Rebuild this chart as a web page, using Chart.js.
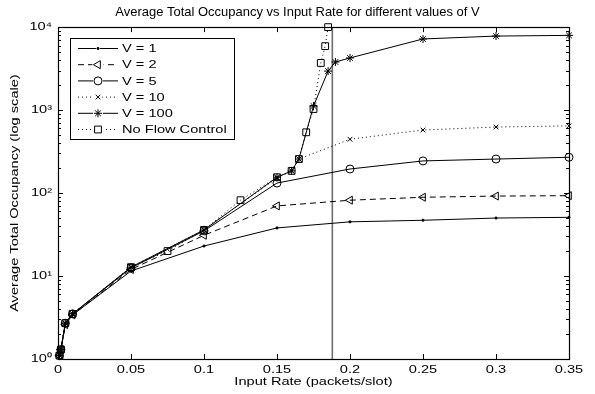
<!DOCTYPE html>
<html>
<head>
<meta charset="utf-8">
<script src="https://cdn.jsdelivr.net/npm/chart.js@4/dist/chart.umd.min.js"></script>
<style>
  html, body { margin: 0; padding: 0; background: #fff; }
  #wrap { width: 595px; height: 394px; }
</style>
</head>
<body>
<div id="wrap"><canvas id="chart" width="595" height="394"></canvas></div>
<script>
(function () {
  "use strict";

  // values (x = input rate, y = occupancy)
  const v1X = [0.001, 0.002, 0.005, 0.01, 0.05, 0.1, 0.15, 0.2, 0.25, 0.3, 0.35];
  const v1Y = [1.1, 1.3, 2.6, 3.4, 11.5, 23, 38, 45, 47, 50, 51];

  const v2X = [0.001, 0.002, 0.005, 0.01, 0.05, 0.1, 0.15, 0.2, 0.25, 0.3, 0.35];
  const v2Y = [1.1, 1.3, 2.6, 3.4, 12, 31, 70, 82, 89, 92, 93];

  const v5X = [0.001, 0.002, 0.005, 0.01, 0.05, 0.1, 0.15, 0.2, 0.25, 0.3, 0.35];
  const v5Y = [1.1, 1.3, 2.7, 3.5, 12.5, 35, 132, 195, 244, 257, 270];

  const v10X = [0.001, 0.002, 0.005, 0.01, 0.05, 0.1, 0.15, 0.16, 0.165, 0.2, 0.25, 0.3, 0.35];
  const v10Y = [1.1, 1.3, 2.7, 3.5, 12.8, 36, 152, 185, 257, 445, 575, 625, 645];

  const v100X = [0.001, 0.002, 0.005, 0.01, 0.05, 0.1, 0.15, 0.16, 0.165, 0.175, 0.185, 0.19, 0.2, 0.25, 0.3, 0.35];
  const v100Y = [1.1, 1.3, 2.7, 3.5, 12.8, 36, 155, 185, 257, 1120, 2950, 3800, 4250, 7200, 7800, 7950];

  const nfcX = [0.001, 0.002, 0.005, 0.01, 0.05, 0.075, 0.1, 0.125, 0.15, 0.16, 0.165, 0.17, 0.175, 0.18, 0.183, 0.185];
  const nfcY = [1.1, 1.3, 2.7, 3.5, 12.8, 20, 36, 82, 155, 185, 257, 540, 1030, 3700, 5900, 10000];

  // capacity marker (vertical line)
  const limitX = [0.1879, 0.1879];
  const limitY = [1, 10000];

  const xTicks = [0, 0.05, 0.1, 0.15, 0.2, 0.25, 0.3, 0.35];
  const yMajor = [1, 10, 100, 1000, 10000];
  const yLabels = ["10\u2070", "10\u00b9", "10\u00b2", "10\u00b3", "10\u2074"];

  const FONT = "'Liberation Sans', Arial, Helvetica, sans-serif";
  const TITLE_SIZE = 12.6;
  const TEXT_SIZE = 11.5;

  const canvas = document.getElementById("chart");
  const ctx2d = canvas.getContext("2d");

  // the source print has wide (horizontally stretched) lettering
  const rawFill = ctx2d.fillText.bind(ctx2d);
  ctx2d.fillText = function (text, x, y) {
    const sx = this.font.indexOf(TITLE_SIZE + "px") >= 0 ? 1.03 : 1.27;
    this.save();
    this.translate(x, y);
    this.scale(sx, 1);
    rawFill(text, 0, 0);
    this.restore();
  };

  function pts(xs, ys) {
    return xs.map((x, i) => ({ x, y: ys[i] }));
  }

  function series(label, xs, ys, extra) {
    return Object.assign({
      label,
      data: pts(xs, ys),
      borderColor: "#000",
      borderWidth: 1,
      pointBorderColor: "#000",
      pointBackgroundColor: "rgba(0,0,0,0)",
      pointBorderWidth: 1,
      pointHoverRadius: 0,
      tension: 0,
      fill: false,
      clip: false
    }, extra);
  }

  const datasets = [
    series("V = 1", v1X, v1Y, { pointStyle: "circle", pointRadius: 1.1, pointBackgroundColor: "#000" }),
    series("V = 2", v2X, v2Y, { pointStyle: "triangle", pointRotation: -90, pointRadius: 4.6, borderDash: [6, 4] }),
    series("V = 5", v5X, v5Y, { pointStyle: "circle", pointRadius: 4 }),
    series("V = 10", v10X, v10Y, { pointStyle: "crossRot", pointRadius: 3.3, borderDash: [1, 3] }),
    series("V = 100", v100X, v100Y, { pointStyle: "star", pointRadius: 4 }),
    series("No Flow Control", nfcX, nfcY, { pointStyle: "rect", pointRadius: 4.8, borderDash: [1, 3] }),
    {
      label: "",
      data: pts(limitX, limitY),
      borderColor: "#6e6e6e",
      borderWidth: 1.6,
      pointRadius: 0,
      clip: false
    }
  ];

  // MATLAB-like box with inward ticks
  const framePlugin = {
    id: "frame",
    afterDatasetsDraw(chart) {
      const { ctx, chartArea: a, scales } = chart;
      const xs = scales.x, ys = scales.y;
      ctx.save();
      ctx.strokeStyle = "#000";
      ctx.lineWidth = 1;
      ctx.setLineDash([]);
      ctx.beginPath();
      xTicks.forEach((v) => {
        const px = Math.round(xs.getPixelForValue(v)) + 0.5;
        ctx.moveTo(px, a.bottom); ctx.lineTo(px, a.bottom - 5);
        ctx.moveTo(px, a.top); ctx.lineTo(px, a.top + 5);
      });
      for (let e = 0; e < 4; e++) {
        for (let m = 1; m <= 10; m++) {
          const v = m * Math.pow(10, e);
          const py = Math.round(ys.getPixelForValue(v)) + 0.5;
          const len = (m === 1 || m === 10) ? 5 : 3;
          ctx.moveTo(a.left, py); ctx.lineTo(a.left + len, py);
          ctx.moveTo(a.right, py); ctx.lineTo(a.right - len, py);
        }
      }
      ctx.stroke();
      ctx.lineWidth = 1.2;
      ctx.strokeRect(Math.round(a.left) + 0.5, Math.round(a.top) + 0.5,
        Math.round(a.right - a.left), Math.round(a.bottom - a.top));
      ctx.restore();
    }
  };

  // boxed legend inside the plot, upper left
  const legendPlugin = {
    id: "boxLegend",
    afterDraw(chart) {
      const ctx = chart.ctx;
      const sets = chart.data.datasets.filter((d) => d.label);
      ctx.save();
      ctx.fillStyle = "#fff";
      ctx.fillRect(70, 38, 164, 101);
      ctx.strokeStyle = "#000";
      ctx.lineWidth = 1;
      ctx.strokeRect(70.5, 38.5, 164, 101);
      ctx.font = TEXT_SIZE + "px " + FONT;
      ctx.textBaseline = "middle";
      ctx.textAlign = "left";
      sets.forEach((d, i) => {
        const y = 48.5 + i * 16.2;
        ctx.strokeStyle = "#000";
        ctx.lineWidth = 1;
        ctx.setLineDash(d.borderDash || []);
        ctx.beginPath();
        ctx.moveTo(78, y);
        ctx.lineTo(118, y);
        ctx.stroke();
        ctx.setLineDash([]);
        ctx.fillStyle = "#fff";
        const r = d.pointRadius;
        ctx.fillRect(98 - r - 1, y - r - 1, 2 * r + 2, 2 * r + 2);
        ctx.fillStyle = d.pointBackgroundColor;
        Chart.helpers.drawPoint(ctx, {
          pointStyle: d.pointStyle,
          rotation: d.pointRotation || 0,
          radius: r,
          borderWidth: 1
        }, 98, y);
        ctx.fillStyle = "#000";
        ctx.fillText(d.label, 122, y + 0.5);
      });
      ctx.restore();
    }
  };

  new Chart(canvas, {
    type: "line",
    data: { datasets },
    plugins: [framePlugin, legendPlugin],
    options: {
      responsive: false,
      animation: false,
      events: [],
      layout: { padding: 0 },
      plugins: {
        legend: { display: false },
        tooltip: { enabled: false },
        title: {
          display: true,
          text: "Average Total Occupancy vs Input Rate for different values of V",
          color: "#000",
          font: { family: FONT, size: TITLE_SIZE, weight: "normal" },
          padding: { top: 5, bottom: 7 }
        }
      },
      scales: {
        x: {
          type: "linear",
          min: 0,
          max: 0.35,
          afterFit: (s) => { s.height = 35; },
          afterBuildTicks: (s) => { s.ticks = xTicks.map((v) => ({ value: v })); },
          grid: { display: false, drawTicks: false },
          border: { display: false },
          ticks: {
            color: "#000",
            padding: 4,
            maxRotation: 0,
            autoSkip: false,
            font: { family: FONT, size: TEXT_SIZE },
            callback: (v) => String(Number(v.toFixed(2)))
          },
          title: {
            display: true,
            text: "Input Rate (packets/slot)",
            color: "#000",
            font: { family: FONT, size: TEXT_SIZE },
            padding: { top: 0, bottom: 5 }
          }
        },
        y: {
          type: "logarithmic",
          min: 1,
          max: 10000,
          afterFit: (s) => { s.width = 58; },
          afterBuildTicks: (s) => { s.ticks = yMajor.map((v) => ({ value: v, major: true })); },
          grid: { display: false, drawTicks: false },
          border: { display: false },
          ticks: {
            color: "#000",
            padding: 6,
            autoSkip: false,
            font: { family: FONT, size: TEXT_SIZE },
            callback: (v) => {
              const i = yMajor.indexOf(v);
              return i >= 0 ? yLabels[i] : "";
            }
          },
          title: {
            display: true,
            text: "Average Total Occupancy (log scale)",
            color: "#000",
            font: { family: FONT, size: TEXT_SIZE },
            padding: { top: 8, bottom: 0 }
          }
        },
        // empty right-hand gutter so the title stays centred on the page
        gutter: {
          type: "linear",
          position: "right",
          display: true,
          afterFit: (s) => { s.width = 26; },
          grid: { display: false, drawTicks: false },
          border: { display: false },
          ticks: { display: false }
        }
      }
    }
  });
})();
</script>
</body>
</html>
